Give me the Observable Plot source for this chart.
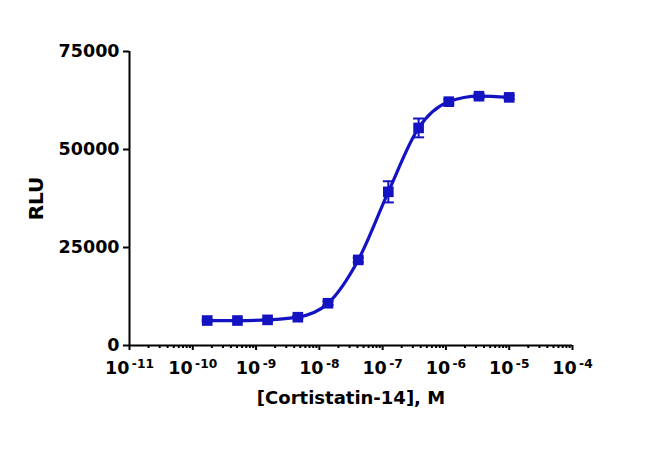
<!DOCTYPE html>
<html>
<head>
<meta charset="utf-8">
<script src="https://cdn.jsdelivr.net/npm/d3@7"></script>
<script src="https://cdn.jsdelivr.net/npm/@observablehq/plot@0.6"></script>
<style>
  html, body { margin: 0; padding: 0; background: #fff; }
  #chart { width: 650px; height: 460px; }
</style>
</head>
<body>
<div id="chart"></div>
<script>
// Concentration of Cortistatin-14 (M), 3-fold dilution series
const conc = [1.69e-10, 5.08e-10, 1.52e-9, 4.57e-9, 1.37e-8, 4.12e-8, 1.23e-7, 3.70e-7, 1.11e-6, 3.33e-6, 1.0e-5];
// Mean RLU
const rlu = [6370, 6370, 6540, 7220, 10780, 21840, 39200, 55500, 62200, 63600, 63300];
// Error (SEM)
const err = [250, 250, 250, 300, 450, 600, 2700, 2400, 600, 500, 450];

const yTicks = [0, 25000, 50000, 75000];
const xTicks = [1e-11, 1e-10, 1e-9, 1e-8, 1e-7, 1e-6, 1e-5, 1e-4];
const xExponents = ["-11", "-10", "-9", "-8", "-7", "-6", "-5", "-4"];
const minorMultipliers = [2, 3, 4, 5, 6, 7, 8, 9];
const minorTicks = xTicks.slice(0, -1).flatMap(t => minorMultipliers.map(m => m * t));

const data = conc.map((c, i) => ({conc: c, rlu: rlu[i], lo: rlu[i] - err[i], hi: rlu[i] + err[i]}));

const blue = "#1313C2";

const capSymbol = {
  draw(context, size) {
    const r = Math.sqrt(size / Math.PI);
    context.moveTo(-r, 0);
    context.lineTo(r, 0);
  }
};

const chart = Plot.plot({
  width: 650,
  height: 460,
  marginLeft: 129,
  marginRight: 78,
  marginTop: 51,
  marginBottom: 115,
  style: {fontFamily: "DejaVu Sans", fontWeight: "bold", fontSize: "17.5px", color: "#000", background: "#fff", overflow: "visible"},
  x: {type: "log", domain: [1e-11, 1e-4]},
  y: {domain: [0, 75000]},
  marks: [
    Plot.axisY({ticks: yTicks, tickSize: 6, tickPadding: 4, strokeWidth: 2, tickFormat: d => String(d),
      label: "RLU", labelAnchor: "center", labelArrow: "none", labelOffset: 101}),
    Plot.axisX({ticks: xTicks, tickSize: 5, tickPadding: 11, strokeWidth: 2, tickFormat: () => "10",
      label: "[Cortistatin-14], M", labelAnchor: "center", labelArrow: "none", labelOffset: 58}),
    Plot.axisX({ticks: minorTicks, tickSize: 3, strokeWidth: 2, tickFormat: () => "", label: null}),
    Plot.ruleY([0], {strokeWidth: 2}),
    Plot.ruleX([1e-11], {strokeWidth: 2}),
    Plot.line(data, {x: "conc", y: "rlu", curve: "monotone-x", stroke: blue, strokeWidth: 3.2}),
    Plot.ruleX(data, {x: "conc", y1: "lo", y2: "hi", stroke: blue, strokeWidth: 2}),
    Plot.dot(data, {x: "conc", y: "lo", symbol: capSymbol, r: 5.5, stroke: blue, strokeWidth: 2, fill: "none"}),
    Plot.dot(data, {x: "conc", y: "hi", symbol: capSymbol, r: 5.5, stroke: blue, strokeWidth: 2, fill: "none"}),
    Plot.dot(data, {x: "conc", y: "rlu", symbol: "square", r: 6, fill: blue, stroke: "none"})
  ]
});

document.getElementById("chart").appendChild(chart);

// superscript exponents on x tick labels
const svg = d3.select(chart);
svg.selectAll('g[aria-label="x-axis tick label"] text').each(function(d, i) {
  const t = d3.select(this);
  if (i < xExponents.length) {
    t.append("tspan").attr("dx", "0.2em").attr("dy", "-0.5em").attr("font-size", "0.7em").text(xExponents[i]);
  }
});
svg.selectAll('g[aria-label="x-axis label"] text').attr("font-size", "18px");
svg.selectAll('g[aria-label="y-axis label"] text').attr("font-size", "20px");
</script>
</body>
</html>
